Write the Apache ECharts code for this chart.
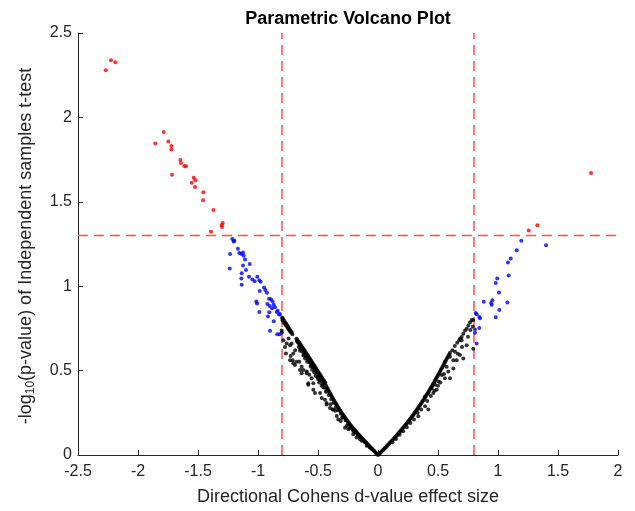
<!DOCTYPE html>
<html>
<head>
<meta charset="utf-8">
<script src="https://cdn.jsdelivr.net/npm/echarts@6/dist/echarts.min.js"></script>
<style>html,body{margin:0;padding:0;background:#fff;}#c{width:635px;height:511px;}</style>
</head>
<body>
<div id="c"></div>
<script>
// ---- data ----
const xTicks = [-2.5, -2, -1.5, -1, -0.5, 0, 0.5, 1, 1.5, 2];
const yTicks = [0, 0.5, 1, 1.5, 2, 2.5];
const thresholdX = [-0.8, 0.8];
const thresholdY = [1.3];

const redPoints = [
[-2.269,2.279],[-2.225,2.339],[-2.189,2.326],[-1.856,1.845],[-1.786,1.913],[-1.747,1.857],
[-1.722,1.830],[-1.722,1.810],[-1.717,1.660],[-1.647,1.748],[-1.642,1.730],[-1.614,1.712],
[-1.600,1.711],[-1.536,1.642],[-1.522,1.628],[-1.553,1.613],[-1.525,1.588],[-1.456,1.556],
[-1.458,1.509],[-1.372,1.451],[-1.294,1.375],[-1.303,1.363],[-1.300,1.351],[-1.392,1.322],
[1.775,1.670],[1.328,1.361],[1.256,1.330]
];

const bluePoints = [
[-1.214,1.279],[-1.203,1.265],[-1.197,1.269],[-1.233,1.191],[-1.167,1.222],[-1.156,1.197],
[-1.139,1.191],[-1.125,1.199],[-1.119,1.181],[-1.236,1.105],[-1.108,1.158],[-1.069,1.132],
[-1.125,1.123],[-1.100,1.096],[-1.136,1.076],[-1.075,1.056],[-1.139,1.045],[-1.006,1.056],
[-1.047,1.039],[-0.989,1.035],[-1.028,1.029],[-0.978,1.027],[-1.136,1.008],[-0.986,0.972],
[-0.950,0.992],[-0.939,0.978],[-0.925,0.961],[-0.908,0.926],[-0.892,0.922],[-1.014,0.910],
[-1.008,0.898],[-0.878,0.910],[-0.922,0.894],[-0.869,0.890],[-0.903,0.882],[-0.858,0.875],
[-0.883,0.869],[-0.989,0.847],[-0.906,0.845],[-0.836,0.855],[-0.825,0.832],[-0.917,0.820],
[-0.869,0.793],[-0.900,0.736],[-0.839,0.715],[-0.819,0.715],[-0.817,0.835],[-0.844,0.847],
[1.194,1.269],[1.400,1.242],[1.156,1.213],[1.106,1.164],[1.083,1.140],[1.089,1.064],
[0.994,1.046],[0.981,1.019],[1.008,0.962],[0.881,0.908],[0.953,0.917],[0.942,0.900],
[0.947,0.890],[1.078,0.904],[1.011,0.859],[0.814,0.841],[0.822,0.834],[0.844,0.818],
[0.850,0.810],[0.981,0.816],[0.844,0.752],[0.808,0.744],[0.808,0.724],[0.822,0.660]
];

const blackLeft = [
[-0.800,0.815],[-0.797,0.800],[-0.792,0.808],[-0.788,0.790],[-0.783,0.797],[-0.779,0.781],
[-0.774,0.786],[-0.770,0.772],[-0.765,0.777],[-0.761,0.763],[-0.757,0.768],[-0.752,0.752],
[-0.748,0.758],[-0.743,0.743],[-0.739,0.748],[-0.734,0.733],[-0.729,0.738],[-0.724,0.724],
[-0.719,0.729],[-0.713,0.716],[-0.803,0.738],[-0.801,0.726],
[-0.680,0.689],[-0.676,0.676],[-0.672,0.683],[-0.668,0.668],[-0.664,0.673],[-0.659,0.660],
[-0.655,0.665],[-0.651,0.650],[-0.646,0.655],[-0.642,0.641],[-0.637,0.646],[-0.633,0.632],
[-0.628,0.636],[-0.624,0.622],[-0.619,0.627],[-0.615,0.612],[-0.610,0.617],[-0.606,0.602],
[-0.601,0.607],[-0.597,0.593],[-0.592,0.597],[-0.588,0.583],[-0.583,0.588],[-0.579,0.573],
[-0.574,0.578],[-0.570,0.563],[-0.565,0.568],[-0.561,0.553],[-0.556,0.558],[-0.552,0.544],
[-0.547,0.548],[-0.543,0.534],[-0.538,0.538],[-0.534,0.524],[-0.529,0.528],[-0.525,0.514],
[-0.520,0.518],[-0.516,0.504],[-0.511,0.508],[-0.507,0.494],[-0.502,0.498],[-0.498,0.484],
[-0.493,0.488],[-0.489,0.474],[-0.484,0.478],[-0.480,0.465],[-0.475,0.468],[-0.471,0.455],
[-0.466,0.458],[-0.462,0.446],[-0.457,0.448],[-0.453,0.436],[-0.448,0.438],[-0.444,0.426],
[-0.439,0.428],
[-0.660,0.640],[-0.645,0.625],[-0.630,0.612],[-0.615,0.598],[-0.600,0.585],[-0.585,0.566],
[-0.570,0.548],[-0.555,0.535],[-0.540,0.518],[-0.525,0.500],[-0.510,0.487],[-0.495,0.470],
[-0.480,0.452],[-0.465,0.437],[-0.450,0.420],
[-0.650,0.618],[-0.622,0.590],[-0.608,0.572],[-0.590,0.552],[-0.562,0.525],[-0.548,0.505],
[-0.532,0.490],[-0.505,0.462],[-0.488,0.445],[-0.462,0.418],[-0.442,0.398],[-0.425,0.380],
[-0.432,0.410],[-0.425,0.398],[-0.418,0.392],[-0.411,0.380],[-0.404,0.372],[-0.397,0.362],
[-0.391,0.356],[-0.384,0.345],[-0.377,0.338],[-0.370,0.328],[-0.363,0.320],[-0.356,0.310],
[-0.349,0.303],[-0.342,0.294],[-0.335,0.285],[-0.328,0.278],[-0.321,0.270],[-0.314,0.262],
[-0.307,0.255],[-0.300,0.248],[-0.293,0.240],[-0.286,0.233],[-0.279,0.226],[-0.272,0.218],
[-0.265,0.212],[-0.258,0.205],[-0.251,0.198],[-0.244,0.192],[-0.237,0.185],[-0.230,0.178],
[-0.223,0.172],[-0.216,0.166],[-0.209,0.160],[-0.202,0.154],[-0.195,0.148],[-0.188,0.142],
[-0.181,0.137],[-0.174,0.131],[-0.167,0.125],[-0.160,0.120],[-0.153,0.114],[-0.146,0.109],
[-0.139,0.103],[-0.132,0.098],[-0.125,0.093],[-0.118,0.087],[-0.111,0.082],[-0.104,0.077],
[-0.097,0.072],[-0.090,0.066],[-0.083,0.061],[-0.076,0.056],[-0.069,0.051],[-0.062,0.045],
[-0.055,0.040],[-0.048,0.035],[-0.041,0.030],[-0.034,0.025],[-0.027,0.020],[-0.020,0.014],
[-0.013,0.009],[-0.006,0.004],[0.000,0.000],
[-0.520,0.470],[-0.500,0.450],[-0.490,0.430],[-0.470,0.410],[-0.455,0.400],[-0.435,0.375],
[-0.410,0.355],[-0.390,0.330],[-0.370,0.310],[-0.350,0.285],[-0.330,0.265],[-0.310,0.245],
[-0.290,0.222],[-0.270,0.205],[-0.250,0.185],[-0.230,0.168],[-0.210,0.150],[-0.190,0.135],
[-0.170,0.120],[-0.150,0.105],[-0.130,0.090],[-0.110,0.075],[-0.090,0.060],[-0.070,0.046],
[-0.775,0.640],[-0.733,0.650],[-0.767,0.601],[-0.728,0.586],[-0.711,0.562],[-0.692,0.533],
[-0.656,0.552],[-0.636,0.523],[-0.622,0.504],[-0.594,0.494],[-0.572,0.475],[-0.553,0.455],
[-0.581,0.416],[-0.733,0.562],[-0.636,0.484],[-0.539,0.387],[-0.525,0.367],[-0.581,0.425],
[-0.678,0.552],[-0.706,0.601],[-0.761,0.660],[-0.789,0.680],[-0.706,0.543],[-0.650,0.504],
[-0.594,0.484],[-0.539,0.425],[-0.483,0.367],[-0.690,0.620],[-0.745,0.690],[-0.720,0.660],
[-0.469,0.337],[-0.442,0.328],[-0.428,0.299],[-0.400,0.279],[-0.378,0.270],[-0.344,0.231],
[-0.311,0.201],[-0.275,0.162],[-0.247,0.152],[-0.206,0.123],[-0.178,0.103],[-0.136,0.084],
[-0.094,0.055],[-0.053,0.035],[-0.428,0.308],[-0.372,0.270],[-0.331,0.211],[-0.261,0.172],
[-0.206,0.142],[-0.150,0.094],[-0.395,0.300],[-0.355,0.262],[-0.300,0.220],[-0.235,0.160]
];

const blackRight = [
[0.006,0.004],[0.012,0.008],[0.019,0.013],[0.026,0.018],[0.033,0.023],[0.040,0.028],
[0.047,0.033],[0.054,0.038],[0.061,0.043],[0.068,0.048],[0.075,0.053],[0.082,0.059],
[0.089,0.064],[0.096,0.069],[0.103,0.075],[0.110,0.080],[0.117,0.085],[0.124,0.091],
[0.131,0.097],[0.138,0.102],[0.145,0.108],[0.152,0.113],[0.159,0.119],[0.166,0.125],
[0.173,0.130],[0.180,0.136],[0.187,0.142],[0.194,0.148],[0.201,0.154],[0.208,0.160],
[0.215,0.166],[0.222,0.172],[0.229,0.178],[0.236,0.184],[0.243,0.190],[0.250,0.197],
[0.257,0.203],[0.264,0.210],[0.271,0.216],[0.278,0.223],[0.285,0.230],[0.292,0.236],
[0.299,0.243],[0.306,0.250],[0.313,0.257],[0.320,0.264],[0.327,0.271],[0.334,0.278],
[0.341,0.286],[0.348,0.293],[0.355,0.300],[0.362,0.308],[0.369,0.315],[0.376,0.323],
[0.383,0.331],[0.390,0.339],[0.397,0.347],[0.404,0.355],[0.411,0.363],[0.418,0.371],
[0.425,0.379],[0.432,0.388],[0.439,0.396],[0.446,0.405],[0.453,0.413],[0.460,0.422],
[0.467,0.431],[0.474,0.440],[0.481,0.449],[0.488,0.458],[0.495,0.467],[0.502,0.476],
[0.509,0.485],[0.516,0.494],[0.523,0.503],[0.530,0.512],[0.537,0.521],[0.544,0.530],
[0.551,0.540],[0.558,0.549],[0.565,0.558],[0.572,0.568],[0.579,0.577],[0.586,0.587],
[0.593,0.596],[0.600,0.606],[0.620,0.620],[0.640,0.645],[0.660,0.665],[0.678,0.680],
[0.683,0.689],[0.697,0.699],[0.711,0.718],[0.725,0.738],[0.739,0.748],[0.753,0.767],
[0.767,0.787],[0.781,0.800],[0.794,0.800],
[0.794,0.630],[0.739,0.650],[0.697,0.680],[0.642,0.612],[0.711,0.572],[0.683,0.592],
[0.600,0.582],[0.628,0.562],[0.656,0.562],[0.558,0.552],[0.572,0.523],[0.628,0.513],
[0.586,0.494],[0.531,0.474],[0.558,0.455],[0.600,0.455],[0.503,0.435],[0.475,0.416],
[0.447,0.396],[0.419,0.367],[0.392,0.347],[0.489,0.387],[0.461,0.367],[0.392,0.289],
[0.419,0.270],[0.336,0.230],[0.300,0.210],[0.270,0.190],[0.240,0.165],[0.210,0.140],
[0.180,0.120],[0.150,0.095],[0.120,0.075],[0.360,0.270],[0.330,0.250],[0.440,0.350],
[0.410,0.320],[0.520,0.430],[0.550,0.480],[0.500,0.410],[0.470,0.380],[0.665,0.600],
[0.700,0.640],[0.750,0.700],[0.770,0.740],[0.790,0.760]
];

// ---- chart ----
const FONT = 'Liberation Sans, Arial, Helvetica, sans-serif';
const AX = '#262626';
const DASH = {color: '#ff5050', width: 1.5, type: [10, 6]};
const xMin = xTicks[0], xMax = xTicks[xTicks.length - 1];
const yMin = yTicks[0], yMax = yTicks[yTicks.length - 1];

// threshold lines as line series built from the threshold arrays
const thresholdSeries = thresholdX.map(v => ({
  type: 'line', data: [[v, yMin], [v, yMax]], symbol: 'none', silent: true,
  lineStyle: DASH, z: 1
})).concat(thresholdY.map(v => ({
  type: 'line', data: [[xMin, v], [xMax, v]], symbol: 'none', silent: true,
  lineStyle: DASH, z: 1
})));

// y-axis title with subscript, built from text pieces
const ctx = document.createElement('canvas').getContext('2d');
function tw(t, size) { ctx.font = size + 'px Liberation Sans'; return ctx.measureText(t).width; }
const yt1 = '-log', yt2 = '10', yt3 = '(p-value) of Independent samples t-test';
const w1 = tw(yt1, 18), w2 = tw(yt2, 12), w3 = tw(yt3, 18);
const x0 = -(w1 + w2 + w3) / 2;

const chart = echarts.init(document.getElementById('c'), null, {renderer: 'canvas'});
chart.setOption({
  animation: false,
  backgroundColor: '#ffffff',
  grid: {left: 78, right: 17, top: 33, bottom: 52, containLabel: false},
  graphic: [{
    type: 'text', x: 348, y: 19,
    style: {text: 'Parametric Volcano Plot', font: 'bold 18px ' + FONT, fill: '#000', textAlign: 'center', textVerticalAlign: 'middle'}
  }, {
    type: 'group', x: 26, y: 246, rotation: Math.PI / 2,
    children: [
      {type: 'text', x: x0, y: 0, style: {text: yt1, font: '18px ' + FONT, fill: AX, textAlign: 'left', textVerticalAlign: 'middle'}},
      {type: 'text', x: x0 + w1, y: 5, style: {text: yt2, font: '12px ' + FONT, fill: AX, textAlign: 'left', textVerticalAlign: 'middle'}},
      {type: 'text', x: x0 + w1 + w2, y: 0, style: {text: yt3, font: '18px ' + FONT, fill: AX, textAlign: 'left', textVerticalAlign: 'middle'}}
    ]
  }],
  xAxis: {
    type: 'value', min: xMin, max: xMax, interval: 0.5,
    name: 'Directional Cohens d-value effect size', nameLocation: 'middle', nameGap: 33,
    nameTextStyle: {fontFamily: FONT, fontSize: 18, color: AX},
    axisLine: {show: true, onZero: false, lineStyle: {color: AX, width: 1}},
    axisTick: {show: true, inside: true, length: 5, lineStyle: {color: AX}},
    axisLabel: {fontFamily: FONT, fontSize: 16, color: AX, margin: 9, showMinLabel: true, showMaxLabel: true},
    splitLine: {show: false}
  },
  yAxis: {
    type: 'value', min: yMin, max: yMax, interval: 0.5,
    axisLine: {show: true, onZero: false, lineStyle: {color: AX, width: 1}},
    axisTick: {show: true, inside: true, length: 5, lineStyle: {color: AX}},
    axisLabel: {fontFamily: FONT, fontSize: 16, color: AX, margin: 6, showMinLabel: true, showMaxLabel: true},
    splitLine: {show: false}
  },
  series: [
    {type: 'scatter', name: 'ns', data: blackLeft.concat(blackRight), symbol: 'circle', symbolSize: 4, itemStyle: {color: '#000000'}, silent: true, z: 2},
    {type: 'scatter', name: 'large', data: bluePoints, symbol: 'circle', symbolSize: 4, itemStyle: {color: '#0000ff'}, silent: true, z: 2},
    {type: 'scatter', name: 'sig', data: redPoints, symbol: 'circle', symbolSize: 4, itemStyle: {color: '#ff0000'}, silent: true, z: 2}
  ].concat(thresholdSeries)
});
</script>
</body>
</html>
